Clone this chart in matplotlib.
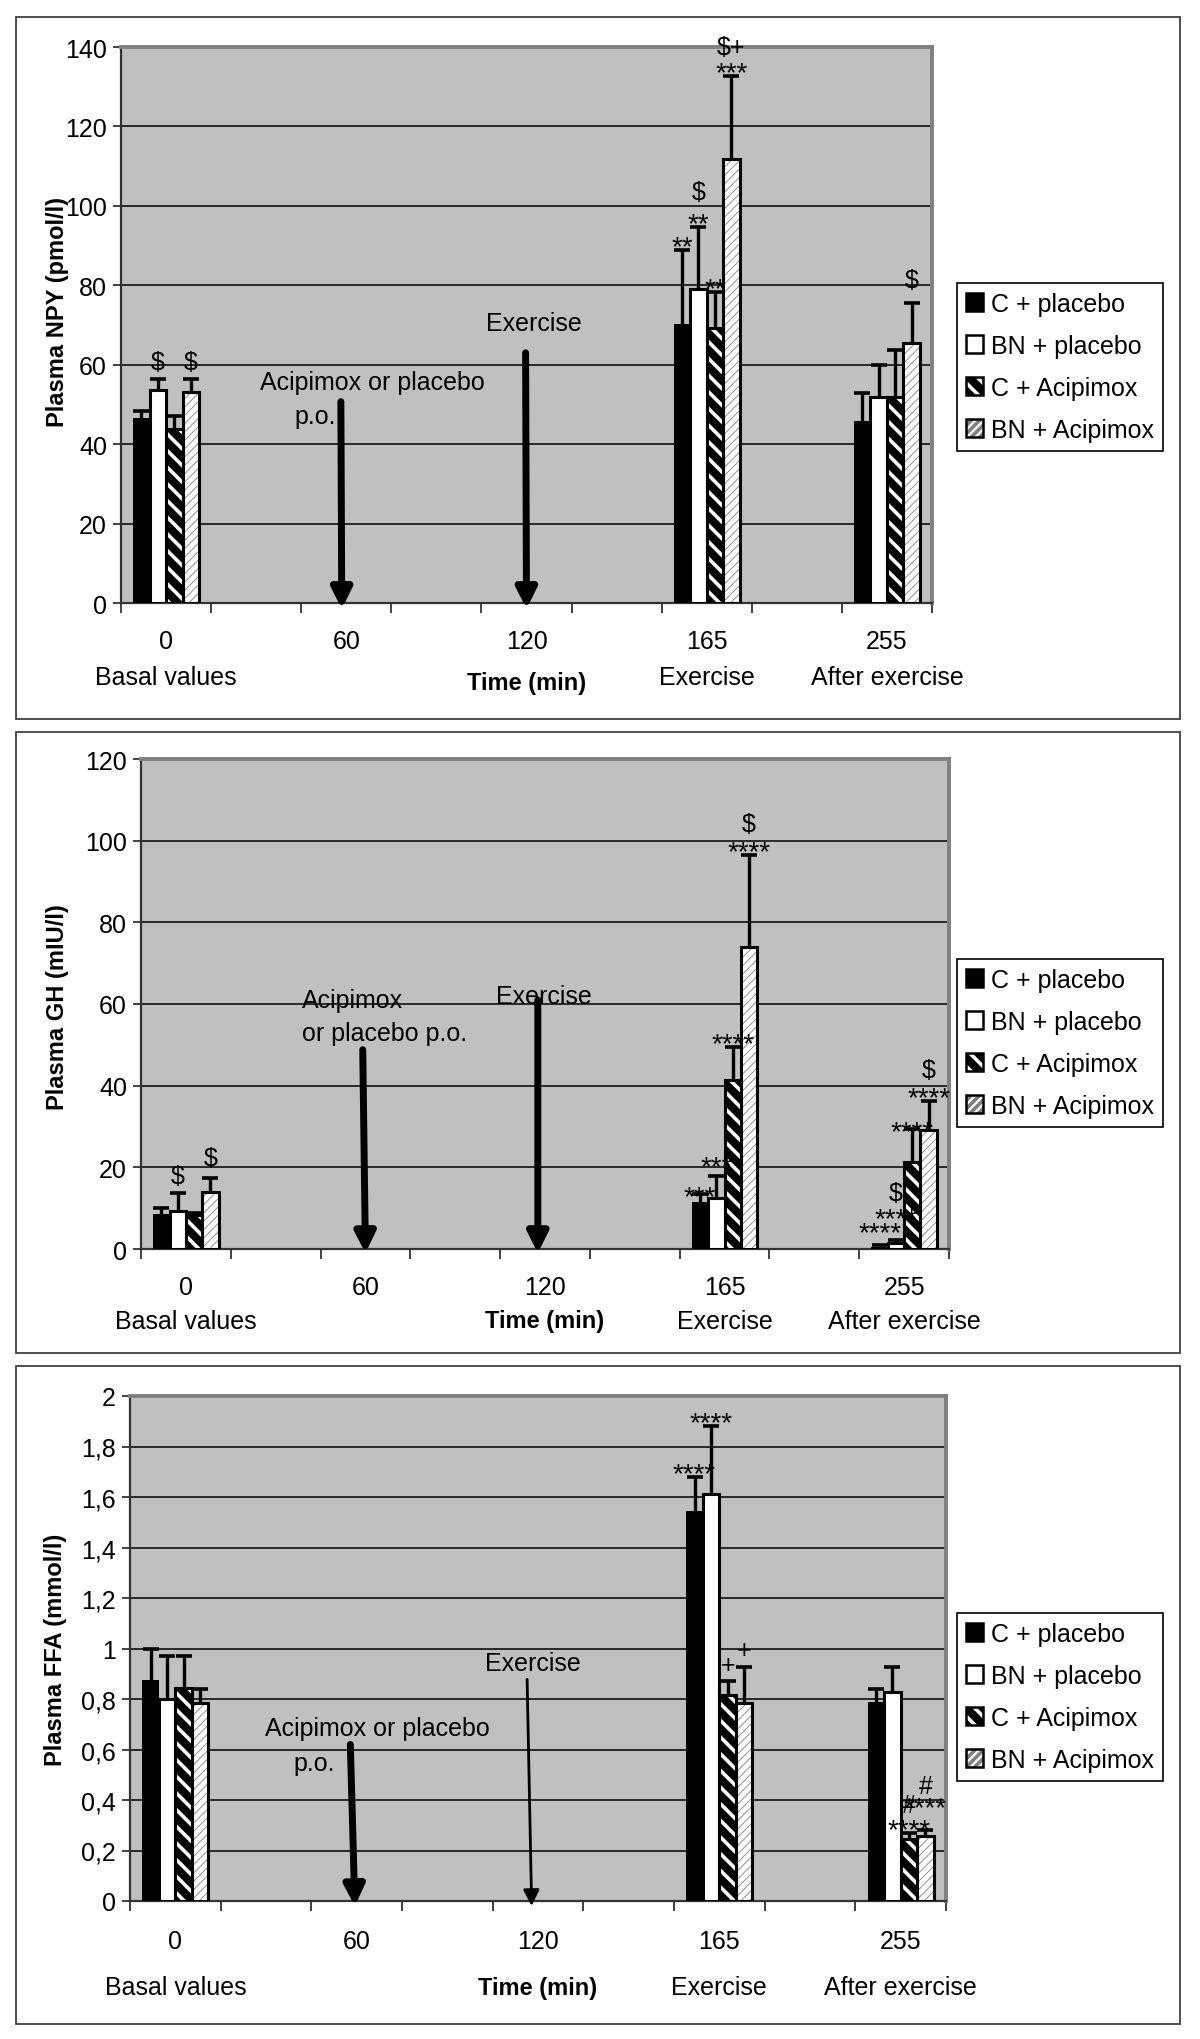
import numpy as np
import matplotlib
matplotlib.use('Agg')
from matplotlib import pyplot as plt
from matplotlib.patches import Patch, Rectangle

plt.rcParams['font.family'] = ['Liberation Sans', 'DejaVu Sans']
plt.rcParams['hatch.linewidth'] = 2.6

# time axis: 9 category slots, the odd ones are empty
time_labels = ['0', '', '60', '', '120', '', '165', '', '255']
phase_labels = ['Basal values', '', '', '', '', '', 'Exercise', '', 'After exercise']
bar_slots = [0, 6, 8]
groups = ['C + placebo', 'BN + placebo', 'C + Acipimox', 'BN + Acipimox']

# plasma NPY (pmol/l), one row per group, columns = bar_slots
npy_mean = [[46.5, 70.2, 45.8], [53.7, 79.1, 51.8], [43.8, 69.2, 51.8], [53.1, 111.8, 65.5]]
npy_err = [[1.8, 18.6, 7.0], [2.7, 15.6, 8.2], [3.3, 9.2, 11.8], [3.3, 20.8, 10.0]]
# significance marks: (time slot, group, text, stacking level)
npy_marks = [(0, 1, '$', 0), (0, 3, '$', 0), (6, 0, '**', 0), (6, 1, '**', 0),
             (6, 1, '$', 0.65), (6, 2, '**', 0), (6, 3, '***', 0), (6, 3, '$+', 0.45),
             (8, 3, '$', 0.23)]
npy_ticks = [0, 20, 40, 60, 80, 100, 120, 140]

# plasma GH (mIU/l)
gh_mean = [[8.6, 11.6, 0.5], [9.3, 12.6, 1.5], [8.3, 41.5, 21.4], [14.0, 73.9, 29.2]]
gh_err = [[1.4, 1.8, 0.4], [4.5, 5.3, 0.6], [0.6, 8.0, 7.9], [3.4, 22.6, 7.0]]
gh_marks = [(0, 1, '$', 0), (0, 3, '$', 0.1), (6, 0, '***', -0.2), (6, 1, '***', 0.2),
            (6, 2, '****', 0), (6, 3, '****', 0), (6, 3, '$', 0.52),
            (8, 0, '****', 0.35), (8, 1, '****', 0.65), (8, 1, '$', 1.1),
            (8, 2, '****', -0.2), (8, 3, '****', 0), (8, 3, '$', 0.52)]
gh_ticks = [0, 20, 40, 60, 80, 100, 120]

# plasma FFA (mmol/l)
ffa_mean = [[0.876, 1.544, 0.789], [0.80, 1.61, 0.829], [0.845, 0.815, 0.247], [0.786, 0.786, 0.256]]
ffa_err = [[0.124, 0.136, 0.051], [0.17, 0.27, 0.098], [0.125, 0.055, 0.023], [0.054, 0.141, 0.024]]
ffa_marks = [(6, 0, '****', 0), (6, 1, '****', 0), (6, 2, '+', 0), (6, 3, '+', 0),
             (8, 2, '****', 0), (8, 2, '#', 0.4), (8, 3, '****', 0.68), (8, 3, '#', 1.0)]
ffa_ticks = [0, 0.2, 0.4, 0.6, 0.8, 1.0, 1.2, 1.4, 1.6, 1.8, 2.0]
ffa_ticklabels = ['0', '0,2', '0,4', '0,6', '0,8', '1', '1,2', '1,4', '1,6', '1,8', '2']

BAR_W = 0.1825
FS = 18


def set_hlw(p, lw):
    if hasattr(p, 'set_hatch_linewidth'):
        p.set_hatch_linewidth(lw)


def bar_style(g):
    # (face, hatch colour, hatch, hatch linewidth)
    return [('black', 'black', None, 0),
            ('white', 'black', None, 0),
            ('black', 'white', '\\\\', 2.6),
            ('white', '#808080', '////', 0.6)][g]


def draw_bars(ax, means, errs, marks):
    xs0 = np.array(bar_slots, dtype=float)
    tops = []
    for g in range(4):
        xs = xs0 + (g - 1.5) * BAR_W
        face, hc, hatch, hlw = bar_style(g)
        if hatch:
            with plt.rc_context({'hatch.linewidth': hlw}):
                bars = ax.bar(xs, means[g], BAR_W, color=face, edgecolor=hc,
                              hatch=hatch, linewidth=0, zorder=3)
            for b in bars:
                set_hlw(b, hlw)
        else:
            ax.bar(xs, means[g], BAR_W, color=face, linewidth=0, zorder=3)
        if g > 0:
            ax.bar(xs, means[g], BAR_W, fill=False, edgecolor='black',
                   linewidth=2.2, zorder=4)
        eb = ax.errorbar(xs, means[g], yerr=[np.zeros(3), errs[g]], fmt='none',
                         ecolor='black', elinewidth=2.4, capsize=5.5,
                         capthick=2.6, zorder=5)
        eb[1][0].set_visible(False)
        tops.append(np.array(means[g]) + np.array(errs[g]))
    for slot, g, txt, lvl in marks:
        k = bar_slots.index(slot)
        x = slot + (g - 1.5) * BAR_W
        star = txt.startswith('*')
        dy = lvl * 20 + (-3 if star else 7)
        ax.annotate(txt.replace('$', r'\$'), xy=(x, tops[g][k]), xytext=(0, dy),
                    textcoords='offset points', ha='center', va='baseline',
                    fontsize=20 if star else FS, annotation_clip=False, zorder=6)


def style_axes(ax, ymax, yticks, yticklabels, ylabel, ylab_x, ylab_y, xpad,
               phase_off, time_off):
    ax.set_facecolor('#c0c0c0')
    ax.set_xlim(-0.5, 8.5)
    ax.set_ylim(0, ymax)
    ax.set_xticks(np.arange(-0.5, 9.0, 1.0))
    ax.set_xticklabels([])
    ax.tick_params(axis='x', which='major', length=7, width=1.3, color='#333333')
    ax.set_xticks(range(9), labels=time_labels, minor=True)
    ax.tick_params(axis='x', which='minor', length=0, pad=xpad, labelsize=FS)
    ax.set_yticks(yticks, labels=yticklabels)
    ax.tick_params(axis='y', length=6, width=1.3, color='#333333', pad=4, labelsize=FS)
    ax.yaxis.grid(True, color='black', linewidth=1.1)
    ax.set_axisbelow(True)
    for s in ['left', 'bottom']:
        ax.spines[s].set_color('#333333')
        ax.spines[s].set_linewidth(1.6)
    for s in ['top', 'right']:
        ax.spines[s].set_color('#808080')
        ax.spines[s].set_linewidth(2.8)
    for i, lab in enumerate(phase_labels):
        if lab:
            ax.annotate(lab, xy=(i, 0), xycoords=('data', 'axes fraction'),
                        xytext=(0, -phase_off), textcoords='offset points',
                        ha='center', va='baseline', fontsize=FS, annotation_clip=False)
    ax.annotate('Time (min)', xy=(4, 0), xycoords=('data', 'axes fraction'),
                xytext=(0, -time_off), textcoords='offset points',
                ha='center', va='baseline', fontsize=FS - 1, fontweight='bold',
                annotation_clip=False)
    ax.text(ylab_x, ylab_y, ylabel, transform=ax.transAxes, rotation=90,
            ha='center', va='center', fontsize=FS - 1, fontweight='bold')


def add_notes(ax, notes, arrows):
    for txt, x, y, ha in notes:
        ax.text(x, y, txt, ha=ha, va='center', fontsize=FS, zorder=2.6)
    for (x0, y0), (x1, y1), lw in arrows:
        ax.annotate('', xy=(x1, y1), xytext=(x0, y0), annotation_clip=False,
                    arrowprops=dict(arrowstyle='-|>', lw=lw, color='black',
                                    mutation_scale=30 if lw > 3 else 24,
                                    shrinkA=0, shrinkB=0), zorder=2.7)


def legend_handles():
    hs = []
    for g in range(4):
        face, hc, hatch, hlw = bar_style(g)
        if hatch:
            with plt.rc_context({'hatch.linewidth': hlw}):
                p = Patch(facecolor=face, edgecolor=hc, hatch=hatch, linewidth=0)
            set_hlw(p, hlw)
            hs.append((p, Patch(fill=False, edgecolor='black', linewidth=1.8)))
        else:
            hs.append(Patch(facecolor=face, edgecolor='black', linewidth=1.8))
    return hs


fig = plt.figure(figsize=(12, 20.4), dpi=100)
W, H = 1200.0, 2040.0


def frame(y0, y1):
    fig.add_artist(Rectangle((16 / W, 1 - y1 / H), (1180 - 16) / W, (y1 - y0) / H,
                             transform=fig.transFigure, fill=False,
                             edgecolor='#404040', linewidth=1.3))


def axes_px(l, r, t, b):
    return fig.add_axes([l / W, 1 - b / H, (r - l) / W, (b - t) / H])


panels = [
    dict(box=(18, 720), ax=(121, 932, 48, 604), means=npy_mean, errs=npy_err,
         marks=npy_marks, ymax=140, ticks=npy_ticks,
         ticklabels=[str(t) for t in npy_ticks], ylabel='Plasma NPY (pmol/l)',
         ylab=(-0.078, 0.525), xpad=19, phase=58, time=62, leg=284,
         notes=[('Acipimox or placebo', 2.29, 55.6, 'center'),
                ('p.o.', 1.66, 47.0, 'center'),
                ('Exercise', 4.08, 70.4, 'center')],
         arrows=[((1.94, 50.7), (1.95, -1.5), 5), ((3.99, 63.0), (4.0, -1.5), 5)]),
    dict(box=(733, 1354), ax=(141, 949, 760, 1250), means=gh_mean, errs=gh_err,
         marks=gh_marks, ymax=120, ticks=gh_ticks,
         ticklabels=[str(t) for t in gh_ticks], ylabel='Plasma GH (mIU/l)',
         ylab=(-0.103, 0.496), xpad=19, phase=57, time=56, leg=960,
         notes=[('Acipimox', 1.29, 61.0, 'left'),
                ('or placebo p.o.', 1.29, 52.9, 'left'),
                ('Exercise', 3.99, 62.0, 'center')],
         arrows=[((1.97, 48.8), (2.0, -1.0), 5), ((3.92, 61.0), (3.92, -1.0), 5)]),
    dict(box=(1367, 2025), ax=(130, 946, 1397, 1902), means=ffa_mean, errs=ffa_err,
         marks=ffa_marks, ymax=2.0, ticks=ffa_ticks, ticklabels=ffa_ticklabels,
         ylabel='Plasma FFA (mmol/l)', ylab=(-0.091, 0.50), xpad=20, phase=67,
         time=67, leg=1614,
         notes=[('Acipimox or placebo', 2.23, 0.686, 'center'),
                ('p.o.', 1.53, 0.548, 'center'),
                ('Exercise', 3.94, 0.941, 'center')],
         arrows=[((1.93, 0.62), (1.98, -0.02), 5), ((3.88, 0.878), (3.93, -0.02), 2)]),
]

for p in panels:
    frame(*p['box'])
    ax = axes_px(*p['ax'])
    draw_bars(ax, p['means'], p['errs'], p['marks'])
    style_axes(ax, p['ymax'], p['ticks'], p['ticklabels'], p['ylabel'],
               p['ylab'][0], p['ylab'][1], p['xpad'], p['phase'], p['time'])
    add_notes(ax, p['notes'], p['arrows'])
    leg = ax.legend(legend_handles(), groups, loc='upper left',
                    bbox_to_anchor=(957 / W, 1 - p['leg'] / H),
                    bbox_transform=fig.transFigure, borderaxespad=0,
                    fontsize=FS, frameon=True, fancybox=False, framealpha=1,
                    edgecolor='black', handlelength=0.7, handleheight=0.7,
                    handletextpad=0.3, labelspacing=0.72, borderpad=0.35)
    leg.get_frame().set_linewidth(1.2)

fig.savefig('out.png', dpi=100, facecolor='white')
